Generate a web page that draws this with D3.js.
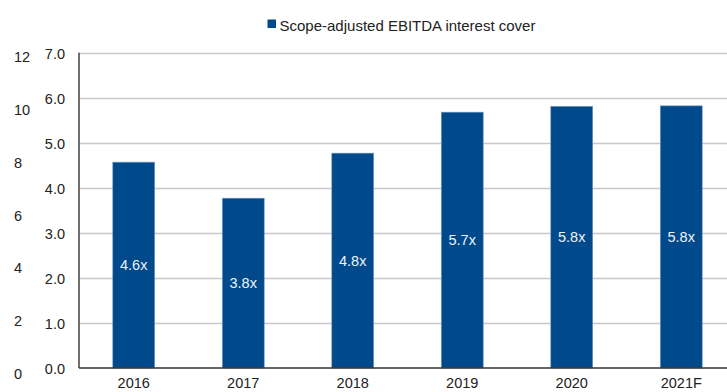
<!DOCTYPE html>
<html><head><meta charset="utf-8">
<script src="https://cdn.jsdelivr.net/npm/d3@7"></script>
<style>body{margin:0;background:#fff}svg{display:block;font-family:"Liberation Sans",Arial,sans-serif}</style>
</head><body><svg id="c" width="727" height="392"></svg>
<script>
const categories = ["2016","2017","2018","2019","2020","2021F"];
const values = [4.57, 3.77, 4.77, 5.68, 5.81, 5.82];
const labels = ["4.6x","3.8x","4.8x","5.7x","5.8x","5.8x"];
const innerTicks = [0,1,2,3,4,5,6,7];
const outerTicks = [0,2,4,6,8,10,12];
const seriesName = "Scope-adjusted EBITDA interest cover";

(function(){
const svg = d3.select("#c");
const pl = 79, pr = 736, pt = 52.7, pb = 368;
const x = d3.scaleBand().domain(categories).range([pl, pr]).paddingInner(0.617).paddingOuter(0.3085);
const y = d3.scaleLinear().domain([0,7]).range([pb, pt]);
const yOuter = d3.scaleLinear().domain([0,12]).range([374, 57]);
const blue = "#004a8c";
const fs = 14.5;

svg.append("g").selectAll("line").data(innerTicks.filter(d=>d>0)).join("line")
  .attr("x1", pl).attr("x2", 727).attr("y1", d=>Math.round(y(d))+0.5).attr("y2", d=>Math.round(y(d))+0.5)
  .attr("stroke", "#c8c8c8").attr("stroke-width", 1.5);

svg.append("g").selectAll("rect").data(categories).join("rect")
  .attr("x", d=>x(d)).attr("width", x.bandwidth())
  .attr("y", (d,i)=>y(values[i])).attr("height", (d,i)=>pb - y(values[i]))
  .attr("fill", blue).attr("stroke", "#7b9cc4").attr("stroke-width", 0.6);

svg.append("g").selectAll("text").data(categories).join("text")
  .attr("x", d=>x(d)+x.bandwidth()/2).attr("y", (d,i)=>(y(values[i])+pb)/2)
  .attr("text-anchor","middle").attr("dominant-baseline","central")
  .attr("fill","#eef2f7").attr("font-size",fs).text((d,i)=>labels[i]);

svg.append("line").attr("x1",pl).attr("x2",pl).attr("y1",pt).attr("y2",pb)
  .attr("stroke","#404040").attr("stroke-width",1.5);
svg.append("line").attr("x1",pl).attr("x2",727).attr("y1",pb).attr("y2",pb)
  .attr("stroke","#333").attr("stroke-width",1.5);

svg.append("g").selectAll("text").data(innerTicks).join("text")
  .attr("x",65).attr("y",d=>y(d)+1).attr("text-anchor","end").attr("dominant-baseline","central")
  .attr("font-size",fs).attr("fill","#222").text(d=>d3.format(".1f")(d));

svg.append("g").selectAll("text").data(outerTicks).join("text")
  .attr("x",14).attr("y",d=>yOuter(d)).attr("text-anchor","start").attr("dominant-baseline","central")
  .attr("font-size",fs).attr("fill","#222").text(d=>d);

svg.append("g").selectAll("text").data(categories).join("text")
  .attr("x",d=>x(d)+x.bandwidth()/2).attr("y",388).attr("text-anchor","middle")
  .attr("font-size",fs).attr("fill","#222").text(d=>d);

svg.append("rect").attr("x",267.5).attr("y",19.5).attr("width",8.5).attr("height",8.5).attr("fill",blue);
svg.append("text").attr("x",279.5).attr("y",30.5)
  .attr("font-size",15).attr("fill","#222").text(seriesName);
})();
</script></body></html>
